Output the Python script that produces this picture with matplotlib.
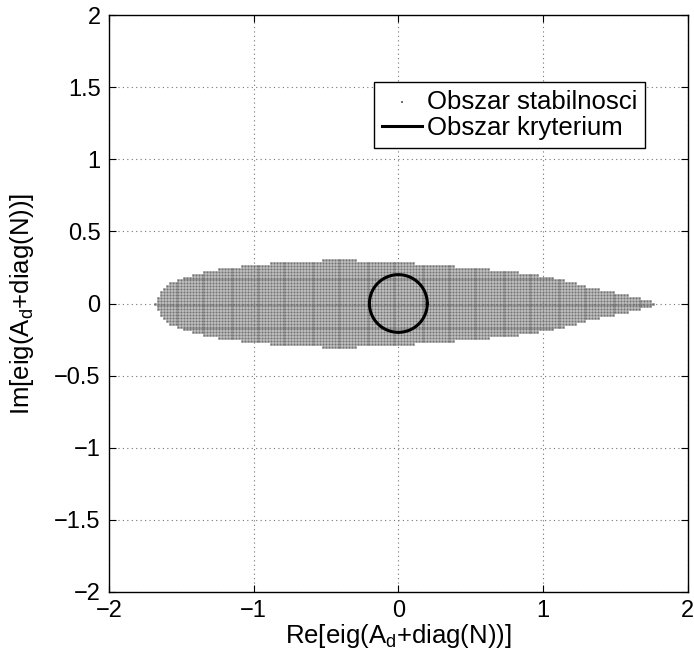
import numpy as np
import matplotlib
matplotlib.use("Agg")
import matplotlib.pyplot as plt
from matplotlib.path import Path

plt.rcParams['font.family'] = ['Liberation Sans', 'DejaVu Sans']
plt.rcParams['mathtext.default'] = 'regular'
plt.rcParams['font.size'] = 17

# upper edge of the stability region (symmetric about Im = 0)
edge_re = [-1.682, -1.648, -1.579, -1.440, -1.233, -1.026, -0.819, -0.404, 0.010,
           0.287, 0.494, 0.701, 0.908, 1.081, 1.323, 1.530, 1.737, 1.779]
edge_im = [0.0, 0.073, 0.142, 0.198, 0.246, 0.267, 0.288, 0.305, 0.288,
           0.267, 0.253, 0.232, 0.212, 0.177, 0.114, 0.073, 0.024, 0.0]

# sampling grid of the eigenvalue scan
grid_step = 0.02
crit_radius = 0.2

fig = plt.figure(figsize=(6.94, 6.59), dpi=100)
ax = fig.add_axes([0.157, 0.1017, 0.834, 0.8755])

outline = np.column_stack([edge_re + edge_re[::-1], edge_im + [-v for v in edge_im[::-1]]])
region = Path(outline)
gx, gy = np.meshgrid(np.arange(-2, 2 + grid_step / 2, grid_step),
                     np.arange(-2, 2 + grid_step / 2, grid_step))
pts = np.column_stack([gx.ravel(), gy.ravel()])
inside = pts[region.contains_points(pts)]
dots = ax.scatter(inside[:, 0], inside[:, 1], s=3.0, marker='s', color='0.45',
                  linewidths=0, label='Obszar stabilnosci')
dots.set_snap(False)

t = np.linspace(0, 2 * np.pi, 200)
ax.plot(crit_radius * np.cos(t), crit_radius * np.sin(t), color='k', lw=2.2,
        label='Obszar kryterium')

ax.set_xlim(-2, 2)
ax.set_ylim(-2, 2)
ax.set_xticks([-2, -1, 0, 1, 2])
ax.set_yticks([-2, -1.5, -1, -0.5, 0, 0.5, 1, 1.5, 2])
ax.set_yticklabels(['\u22122', '\u22121.5', '\u22121', '\u22120.5', '0', '0.5', '1', '1.5', '2'])
ax.tick_params(direction='in', length=5, width=0.8, top=True, right=True)
ax.tick_params(axis='x', pad=6)
ax.tick_params(axis='y', pad=6)
ax.grid(True, linestyle=(0, (1, 3)), color='0.45', linewidth=0.8)
for s in ax.spines.values():
    s.set_linewidth(1.0)

ax.set_xlabel('Re[eig(A$_d$+diag(N))]', fontsize=18.5, labelpad=0)
ax.set_ylabel('Im[eig(A$_d$+diag(N))]', fontsize=18.5, labelpad=13)

leg = ax.legend(loc='upper right', bbox_to_anchor=(0.926, 0.884), borderaxespad=0,
                fancybox=False, framealpha=1, edgecolor='k', handlelength=1.55,
                handletextpad=0.2, borderpad=0.3, labelspacing=0.1, markerscale=1,
                fontsize=18.5)
leg.get_frame().set_linewidth(1.0)

fig.savefig('out.png', dpi=100)
